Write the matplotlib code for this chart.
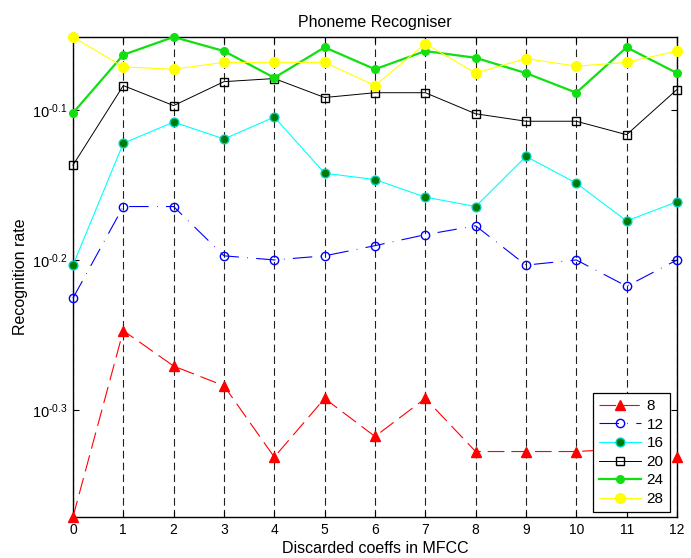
import matplotlib
matplotlib.use("Agg")
import matplotlib.pyplot as plt
from matplotlib.ticker import FixedLocator, FixedFormatter, NullLocator

plt.rcParams['font.family'] = ['Liberation Sans', 'DejaVu Sans']
plt.rcParams['mathtext.fontset'] = 'custom'
plt.rcParams['mathtext.rm'] = 'Liberation Sans'
plt.rcParams['mathtext.it'] = 'Liberation Sans'
plt.rcParams['mathtext.bf'] = 'Liberation Sans'
plt.rcParams['lines.scale_dashes'] = False

# Number of discarded MFCC coefficients
discarded = list(range(13))

# Recognition rate for each filter-bank size
rate_8 = [0.425, 0.566, 0.536, 0.520, 0.466, 0.510, 0.481, 0.510, 0.470, 0.470, 0.470, 0.472, 0.466]
rate_12 = [0.595, 0.685, 0.685, 0.635, 0.631, 0.635, 0.645, 0.656, 0.665, 0.626, 0.631, 0.606, 0.631]
rate_16 = [0.626, 0.755, 0.780, 0.760, 0.786, 0.721, 0.714, 0.695, 0.685, 0.740, 0.710, 0.670, 0.690]
rate_20 = [0.730, 0.825, 0.800, 0.830, 0.834, 0.810, 0.816, 0.816, 0.790, 0.781, 0.781, 0.765, 0.820]
rate_24 = [0.791, 0.865, 0.889, 0.870, 0.835, 0.875, 0.846, 0.870, 0.861, 0.841, 0.816, 0.875, 0.841]
rate_28 = [0.889, 0.849, 0.846, 0.855, 0.855, 0.855, 0.825, 0.880, 0.841, 0.860, 0.850, 0.855, 0.870]

series_labels = ['8', '12', '16', '20', '24', '28']
ytick_values = [10 ** -0.3, 10 ** -0.2, 10 ** -0.1]
ytick_labels = [r'$10^{\text{-0.3}}$', r'$10^{\text{-0.2}}$', r'$10^{\text{-0.1}}$']

fig = plt.figure(figsize=(6.91, 5.58), dpi=100)
ax = fig.add_axes([0.1056, 0.0735, 0.8741, 0.8602])

styles = [
    dict(color='red', linestyle=(0, (12, 5)), linewidth=0.8, marker='^',
         markersize=7, markerfacecolor='red', markeredgecolor='red'),
    dict(color='blue', linestyle=(0, (14, 6, 0.5, 6)), linewidth=0.8, marker='o',
         markersize=6, markerfacecolor='none', markeredgecolor='blue'),
    dict(color='cyan', linestyle='-', linewidth=0.8, marker='o',
         markersize=6.3, markerfacecolor='#007a00', markeredgecolor='#00d0c0'),
    dict(color='black', linestyle='-', linewidth=0.7, marker='s',
         markersize=5.5, markerfacecolor='none', markeredgecolor='black'),
    dict(color='#10e010', linestyle='-', linewidth=1.6, marker='o',
         markersize=5.5, markerfacecolor='#10e010', markeredgecolor='#10e010'),
    dict(color='yellow', linestyle='-', linewidth=0.8, marker='o',
         markersize=7, markerfacecolor='yellow', markeredgecolor='yellow'),
]

all_rates = [rate_8, rate_12, rate_16, rate_20, rate_24, rate_28]
for rates, label, st in zip(all_rates, series_labels, styles):
    ax.plot(discarded, rates, label=label, clip_on=False, zorder=3, **st)

ax.set_yscale('log')
ax.set_xlim(0, 12)
ax.set_ylim(min(min(r) for r in all_rates), max(max(r) for r in all_rates))
ax.set_xticks(discarded)
ax.yaxis.set_major_locator(FixedLocator(ytick_values))
ax.yaxis.set_major_formatter(FixedFormatter(ytick_labels))
ax.yaxis.set_minor_locator(NullLocator())

ax.tick_params(axis='both', direction='in', top=True, right=True, length=4, width=0.8)
ax.tick_params(axis='x', labelsize=10, pad=4)
ax.tick_params(axis='y', labelsize=10.5, pad=4)

ax.xaxis.grid(True, linestyle=(0, (5.5, 3)), color='#202020', linewidth=0.8)
ax.yaxis.grid(False)
ax.set_axisbelow(True)
for sp in ax.spines.values():
    sp.set_linewidth(1.0)

ax.set_title('Phoneme Recogniser', fontsize=11.5, pad=7)
ax.set_xlabel('Discarded coeffs in MFCC', fontsize=11.5, labelpad=3)
ax.set_ylabel('Recognition rate', fontsize=11.5)
ax.yaxis.set_label_coords(-0.074, 0.5)

leg = ax.legend(loc='lower right', bbox_to_anchor=(0.988, 0.01), borderaxespad=0,
                fontsize=11, handlelength=2.7, handletextpad=0.4, labelspacing=0.3,
                borderpad=0.4, fancybox=False, framealpha=1, edgecolor='black')
leg.get_frame().set_linewidth(0.9)

fig.savefig('out.png', dpi=100)
